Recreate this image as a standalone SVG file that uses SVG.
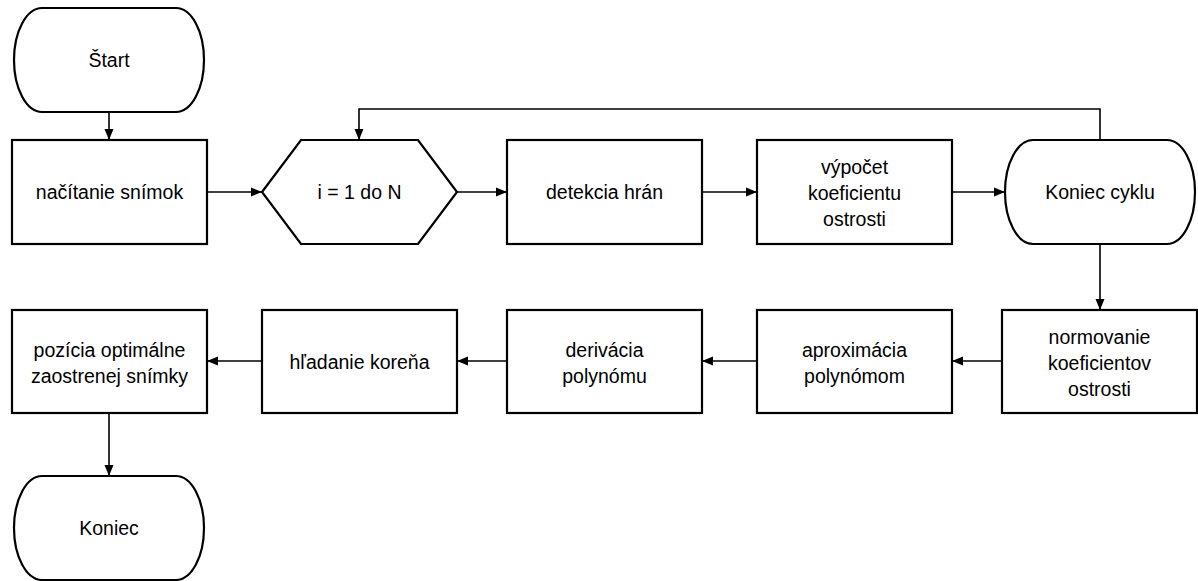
<svg xmlns="http://www.w3.org/2000/svg" width="1198" height="581" viewBox="0 0 1198 581">
  <style>
    .shape { fill: #ffffff; stroke: #000000; stroke-width: 2.2; }
    .conn { fill: none; stroke: #000000; stroke-width: 1.6; }
    .lbl { font-family: "Liberation Sans", Arial, sans-serif; font-size: 19.5px; fill: #000000; text-anchor: middle; }
  </style>
  <defs>
    <marker id="arrow" markerUnits="userSpaceOnUse" markerWidth="12" markerHeight="12" viewBox="0 0 12 12" refX="11" refY="6" orient="auto">
      <path d="M0,1.5 L11,6 L0,10.5 Z" fill="#000000"/>
    </marker>
  </defs>
  <rect width="1198" height="581" fill="#ffffff"/>

  <g id="connectors">
    <path class="conn" d="M109,112 V140" marker-end="url(#arrow)"/>
    <path class="conn" d="M207,192 H262" marker-end="url(#arrow)"/>
    <path class="conn" d="M457,192 H507" marker-end="url(#arrow)"/>
    <path class="conn" d="M702,192 H757" marker-end="url(#arrow)"/>
    <path class="conn" d="M952,192 H1005" marker-end="url(#arrow)"/>
    <path class="conn" d="M1100,140 V109 H359 V140" marker-end="url(#arrow)"/>
    <path class="conn" d="M1100,244 V310" marker-end="url(#arrow)"/>
    <path class="conn" d="M1002,361 H952" marker-end="url(#arrow)"/>
    <path class="conn" d="M757,361 H702" marker-end="url(#arrow)"/>
    <path class="conn" d="M507,361 H457" marker-end="url(#arrow)"/>
    <path class="conn" d="M262,361 H207" marker-end="url(#arrow)"/>
    <path class="conn" d="M109,413 V476" marker-end="url(#arrow)"/>
  </g>

  <g id="start">
    <path class="shape" d="M42,8 H176 A28,52 0 0 1 176,112 H42 A28,52 0 0 1 42,8 Z"/>
    <text class="lbl" x="109" y="67">Štart</text>
  </g>

  <g id="nacitanie">
    <rect class="shape" x="12" y="140" width="195" height="104"/>
    <text class="lbl" x="109.5" y="199">načítanie snímok</text>
  </g>

  <g id="cyklus">
    <polygon class="shape" points="262,192 301,140 418,140 457,192 418,244 301,244"/>
    <text class="lbl" x="359.5" y="199">i = 1 do N</text>
  </g>

  <g id="detekcia">
    <rect class="shape" x="507" y="140" width="195" height="104"/>
    <text class="lbl" x="604.5" y="199">detekcia hrán</text>
  </g>

  <g id="vypocet">
    <rect class="shape" x="757" y="140" width="195" height="104"/>
    <text class="lbl" x="854.5" y="174">výpočet</text>
    <text class="lbl" x="854.5" y="200">koeficientu</text>
    <text class="lbl" x="854.5" y="226">ostrosti</text>
  </g>

  <g id="koniec-cyklu">
    <path class="shape" d="M1033,140 H1167 A28,52 0 0 1 1167,244 H1033 A28,52 0 0 1 1033,140 Z"/>
    <text class="lbl" x="1100" y="199">Koniec cyklu</text>
  </g>

  <g id="normovanie">
    <rect class="shape" x="1002" y="310" width="195" height="103"/>
    <text class="lbl" x="1099.5" y="344">normovanie</text>
    <text class="lbl" x="1099.5" y="370">koeficientov</text>
    <text class="lbl" x="1099.5" y="396">ostrosti</text>
  </g>

  <g id="aproximacia">
    <rect class="shape" x="757" y="310" width="195" height="103"/>
    <text class="lbl" x="854.5" y="357">aproximácia</text>
    <text class="lbl" x="854.5" y="383">polynómom</text>
  </g>

  <g id="derivacia">
    <rect class="shape" x="507" y="310" width="195" height="103"/>
    <text class="lbl" x="604.5" y="357">derivácia</text>
    <text class="lbl" x="604.5" y="383">polynómu</text>
  </g>

  <g id="hladanie">
    <rect class="shape" x="262" y="310" width="195" height="103"/>
    <text class="lbl" x="359.5" y="369">hľadanie koreňa</text>
  </g>

  <g id="pozicia">
    <rect class="shape" x="12" y="310" width="195" height="103"/>
    <text class="lbl" x="109.5" y="357">pozícia optimálne</text>
    <text class="lbl" x="109.5" y="383">zaostrenej snímky</text>
  </g>

  <g id="koniec">
    <path class="shape" d="M42,476 H176 A28,52 0 0 1 176,580 H42 A28,52 0 0 1 42,476 Z"/>
    <text class="lbl" x="109" y="535">Koniec</text>
  </g>
</svg>
